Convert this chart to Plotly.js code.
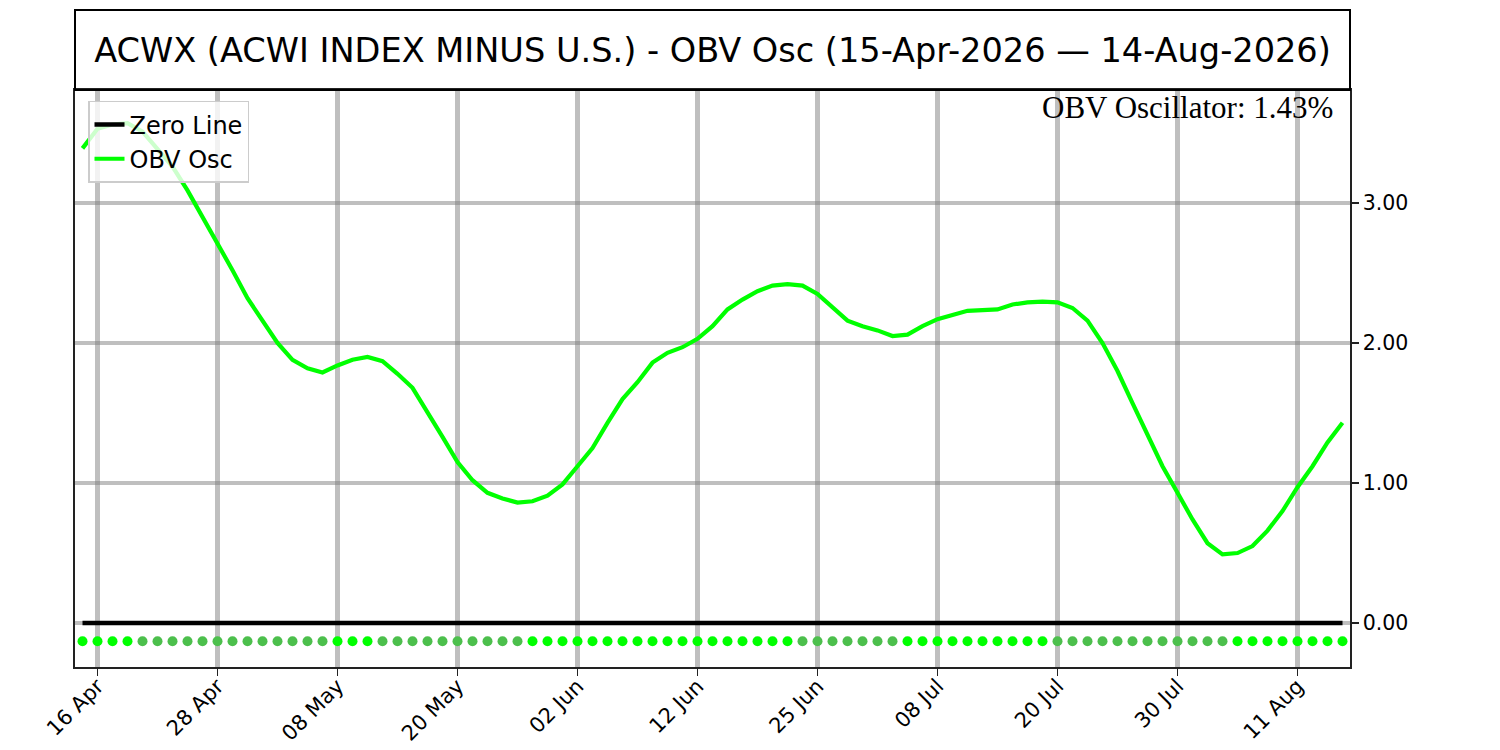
<!DOCTYPE html>
<html>
<head>
<meta charset="utf-8">
<script src="https://cdn.plot.ly/plotly-3.0.1.min.js"></script>
<style>
  html, body { margin: 0; padding: 0; background: #fff; }
  #chart { width: 1500px; height: 750px; }
</style>
</head>
<body>
<div id="chart"></div>
<script>
// trading days, 15-Apr-2026 .. 14-Aug-2026
var dates = [
  '2026-04-15','2026-04-16','2026-04-17','2026-04-20','2026-04-21','2026-04-22','2026-04-23','2026-04-24',
  '2026-04-27','2026-04-28','2026-04-29','2026-04-30','2026-05-01','2026-05-04','2026-05-05','2026-05-06',
  '2026-05-07','2026-05-08','2026-05-11','2026-05-12','2026-05-13','2026-05-14','2026-05-15','2026-05-18',
  '2026-05-19','2026-05-20','2026-05-21','2026-05-22','2026-05-26','2026-05-27','2026-05-28','2026-05-29',
  '2026-06-01','2026-06-02','2026-06-03','2026-06-04','2026-06-05','2026-06-08','2026-06-09','2026-06-10',
  '2026-06-11','2026-06-12','2026-06-15','2026-06-16','2026-06-17','2026-06-18','2026-06-22','2026-06-23',
  '2026-06-24','2026-06-25','2026-06-26','2026-06-29','2026-06-30','2026-07-01','2026-07-02','2026-07-06',
  '2026-07-07','2026-07-08','2026-07-09','2026-07-10','2026-07-13','2026-07-14','2026-07-15','2026-07-16',
  '2026-07-17','2026-07-20','2026-07-21','2026-07-22','2026-07-23','2026-07-24','2026-07-27','2026-07-28',
  '2026-07-29','2026-07-30','2026-07-31','2026-08-03','2026-08-04','2026-08-05','2026-08-06','2026-08-07',
  '2026-08-10','2026-08-11','2026-08-12','2026-08-13','2026-08-14'
];

// OBV oscillator (%)
var obvOsc = [
  3.39, 3.53, 3.56, 3.57, 3.51, 3.39, 3.26, 3.09, 2.90, 2.72,
  2.52, 2.32, 2.16, 2.00, 1.88, 1.82, 1.79, 1.84, 1.88, 1.90,
  1.87, 1.78, 1.68, 1.51, 1.33, 1.15, 1.02, 0.93, 0.89, 0.86,
  0.87, 0.91, 0.99, 1.12, 1.25, 1.43, 1.60, 1.72, 1.86, 1.93,
  1.97, 2.03, 2.12, 2.24, 2.31, 2.37, 2.41, 2.42, 2.41, 2.35,
  2.25, 2.16, 2.12, 2.09, 2.05, 2.06, 2.12, 2.17, 2.20, 2.23,
  2.235, 2.24, 2.275, 2.29, 2.295, 2.29, 2.25, 2.16, 2.00, 1.80,
  1.57, 1.34, 1.12, 0.93, 0.74, 0.57, 0.49, 0.50, 0.55, 0.66,
  0.80, 0.97, 1.12, 1.29, 1.43
];

var tickDates = ['2026-04-16','2026-04-28','2026-05-08','2026-05-20','2026-06-02','2026-06-12',
                 '2026-06-25','2026-07-08','2026-07-20','2026-07-30','2026-08-11'];
var tickLabels = ['16 Apr','28 Apr','08 May','20 May','02 Jun','12 Jun',
                  '25 Jun','08 Jul','20 Jul','30 Jul','11 Aug'];
var yTicks = [0, 1, 2, 3];

var signalLevel = -0.13;   // row of direction dots under the zero line

var upColor = '#00ff00';
var downColor = '#4cbf4c';
var dotColors = obvOsc.map(function (v, i) {
  return (i === 0 || v >= obvOsc[i - 1]) ? upColor : downColor;
});

var zeroTrace = {
  x: [dates[0], dates[dates.length - 1]],
  y: [0, 0],
  mode: 'lines',
  name: 'Zero Line',
  line: {color: '#000000', width: 4.5}
};

var oscTrace = {
  x: dates,
  y: obvOsc,
  mode: 'lines',
  name: 'OBV Osc',
  line: {color: '#00ff00', width: 4.2}
};

var dotTrace = {
  x: dates,
  y: dates.map(function () { return signalLevel; }),
  mode: 'markers',
  showlegend: false,
  marker: {size: 10, color: dotColors}
};

var plotH = 750 - 90 - 83;
var lastVal = obvOsc[obvOsc.length - 1];

var layout = {
  width: 1500,
  height: 750,
  margin: {l: 75, r: 150, t: 90, b: 83},
  paper_bgcolor: '#ffffff',
  plot_bgcolor: '#ffffff',
  font: {family: 'DejaVu Sans', color: '#000000'},
  title: {
    text: 'ACWX (ACWI INDEX MINUS U.S.) - OBV Osc (15-Apr-2026 \u2014 14-Aug-2026)',
    font: {family: 'DejaVu Sans', size: 33.6, color: '#000000'},
    xref: 'paper', x: 0.5, xanchor: 'center',
    yref: 'container', y: 1 - 50 / 750, yanchor: 'middle'
  },
  xaxis: {
    type: 'category',
    categoryorder: 'array',
    categoryarray: dates,
    range: [-0.5, dates.length - 0.5],
    tickvals: tickDates,
    ticktext: tickLabels,
    tickangle: -45,
    tickfont: {size: 21, color: '#000000'},
    ticklabelstandoff: -10,
    ticks: 'outside', ticklen: 7, tickwidth: 1.6, tickcolor: '#222222',
    showline: true, linecolor: '#222222', linewidth: 1.6, mirror: true,
    showgrid: true, gridcolor: 'rgba(128,128,128,0.5)', gridwidth: 4.5,
    zeroline: false
  },
  yaxis: {
    side: 'right',
    range: [-0.314, 3.807],
    tickvals: yTicks,
    tickformat: '.2f',
    tickfont: {size: 20.5, color: '#000000'},
    ticks: 'outside', ticklen: 7, tickwidth: 1.6, tickcolor: '#222222',
    showline: true, linecolor: '#222222', linewidth: 1.6, mirror: true,
    showgrid: true, gridcolor: 'rgba(128,128,128,0.5)', gridwidth: 4.5,
    zeroline: false
  },
  shapes: [{
    type: 'rect', xref: 'paper', yref: 'paper',
    x0: 0, x1: 1, y0: 1, y1: 1 + 80 / plotH,
    line: {color: '#000000', width: 2}
  }],
  annotations: [{
    xref: 'paper', yref: 'paper',
    x: 0.988, y: 1.003, xanchor: 'right', yanchor: 'top',
    text: 'OBV Oscillator: ' + lastVal.toFixed(2) + '%',
    showarrow: false,
    font: {family: 'Liberation Serif', size: 31, color: '#000000'}
  }],
  legend: {
    x: 0.0102, y: 0.981, xanchor: 'left', yanchor: 'top',
    bgcolor: 'rgba(255,255,255,0.8)',
    bordercolor: '#cccccc', borderwidth: 1.5,
    font: {family: 'DejaVu Sans', size: 24, color: '#000000'},
    itemwidth: 30,
    tracegroupgap: 0
  },
  showlegend: true
};

Plotly.newPlot('chart', [zeroTrace, oscTrace, dotTrace], layout, {staticPlot: true});
</script>
</body>
</html>
